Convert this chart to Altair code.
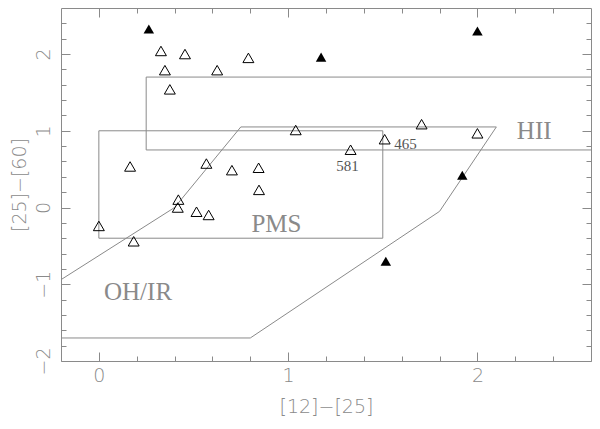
import altair as alt
import pandas as pd

# ---- data ----
open_x = [0.328, 0.455, 0.349, 0.375, 0.625, 0.79, 0.165, 0.42, 0.417, 0.516, 0.58,
          0.0, 0.184, 0.568, 0.703, 0.844, 0.846, 1.04, 1.33, 1.51, 1.705, 2.0]
open_y = [2.04, 2.0, 1.79, 1.54, 1.79, 1.95, 0.535, 0.103, 0.0, -0.055, -0.097,
          -0.24, -0.44, 0.573, 0.487, 0.518, 0.23, 1.01, 0.753, 0.89, 1.086, 0.967]
filled_x = [0.264, 1.174, 2.0, 1.92, 1.516]
filled_y = [2.326, 1.96, 2.30, 0.42, -0.70]

pms_x = [0.0, 1.5, 1.5, 0.0, 0.0]
pms_y = [1.0, 1.0, -0.4, -0.4, 1.0]
hii_x = [2.6, 0.25, 0.25, 2.6]
hii_y = [1.7, 1.7, 0.75, 0.75]
ohir_x = [-0.2, 0.4, 0.75, 2.1, 1.8, 0.8, -0.2]
ohir_y = [-0.94, 0.0, 1.05, 1.05, -0.05, -1.7, -1.7]

region_labels = ["PMS", "OH/IR", "HII"]
region_x = [0.938, 0.207, 2.30]
region_y = [-0.21, -1.107, 1.0]
id_labels = ["581", "465"]
id_x = [1.313, 1.62]
id_y = [0.541, 0.823]

x_major = [0, 1, 2]
x_minor = [0.2, 0.4, 0.6, 0.8, 1.2, 1.4, 1.6, 1.8, 2.2, 2.4]
y_major = [-2, -1, 0, 1, 2]
y_minor = [-1.8, -1.6, -1.4, -1.2, -0.8, -0.6, -0.4, -0.2, 0.2, 0.4, 0.6, 0.8,
           1.2, 1.4, 1.6, 1.8, 2.2, 2.4]

# ---- tables ----
lines = []
for name, xs_, ys_ in [("pms", pms_x, pms_y), ("hii", hii_x, hii_y), ("ohir", ohir_x, ohir_y)]:
    for i, (a, b) in enumerate(zip(xs_, ys_)):
        lines.append({"shape": name, "i": i, "x": a, "y": b})
lines_df = pd.DataFrame(lines)
open_df = pd.DataFrame({"x": open_x, "y": open_y})
filled_df = pd.DataFrame({"x": filled_x, "y": filled_y})
region_df = pd.DataFrame({"x": region_x, "y": region_y, "t": region_labels})
id_df = pd.DataFrame({"x": id_x, "y": id_y, "t": id_labels})

GRAY = "#8a8a8a"
AXFONT = "DejaVu Sans"
SERIF = "Liberation Serif"

xscale = alt.Scale(domain=[-0.2, 2.6], nice=False, zero=False)
yscale = alt.Scale(domain=[-2.0, 2.6], nice=False, zero=False)


def axis(orient, values, size, labels=False, title=None, **kw):
    args = dict(orient=orient, values=values, tickSize=size, offset=-size,
                domain=False, grid=False, labels=labels, tickColor=GRAY,
                tickWidth=1)
    if title is not None:
        args.update(title=title, titleFont=AXFONT, titleFontSize=19,
                    titleFontWeight=200, titleColor=GRAY)
    else:
        args.update(title=None)
    args.update(kw)
    return alt.Axis(**args)


ax_bottom = axis("bottom", x_major, 9, labels=True, title="[12]−[25]",
                 labelFont=AXFONT, labelFontSize=19, labelFontWeight=200,
                 labelColor=GRAY, labelPadding=5, titlePadding=12)
ax_left = axis("left", y_major, 9, labels=True, title="[25]−[60]",
               labelFont=AXFONT, labelFontSize=19, labelFontWeight=200,
               labelColor=GRAY, labelPadding=8, labelAngle=270,
               labelAlign="center", labelBaseline="bottom", titlePadding=5)

X = alt.X("x:Q", scale=xscale, axis=ax_bottom)
Y = alt.Y("y:Q", scale=yscale, axis=ax_left)

line_layer = alt.Chart(lines_df).mark_line(color=GRAY, strokeWidth=1).encode(
    x=X, y=Y, detail="shape:N", order="i:Q")
open_layer = alt.Chart(open_df).mark_point(
    shape="triangle-up", filled=False, color="black", size=120, strokeWidth=1,
    opacity=1).encode(x=X, y=Y)
filled_layer = alt.Chart(filled_df).mark_point(
    shape="triangle-up", filled=True, color="black", size=110, opacity=1).encode(x=X, y=Y)
region_layer = alt.Chart(region_df).mark_text(
    font=SERIF, fontSize=25, color=GRAY, baseline="middle", align="center").encode(
    x=X, y=Y, text="t:N")
id_layer = alt.Chart(id_df).mark_text(
    font=SERIF, fontSize=15, color="#555555", baseline="middle", align="center").encode(
    x=X, y=Y, text="t:N")

main = alt.layer(line_layer, open_layer, filled_layer, region_layer, id_layer)


def ghost(ax_x, ax_y):
    return alt.Chart(open_df).mark_point(opacity=0).encode(
        x=alt.X("x:Q", scale=xscale, axis=ax_x),
        y=alt.Y("y:Q", scale=yscale, axis=ax_y))


minor_bl = ghost(axis("bottom", x_minor, 5), axis("left", y_minor, 5))
major_tr = ghost(axis("top", x_major, 9), axis("right", y_major, 9))
minor_tr = ghost(axis("top", x_minor, 5), axis("right", y_minor, 5))

chart = alt.layer(main, minor_bl, major_tr, minor_tr).resolve_scale(
    x="independent", y="independent"
).properties(
    width=530, height=353,
    padding={"left": 53, "top": 0, "right": 1, "bottom": 57},
    autosize=alt.AutoSizeParams(type="none"),
).configure_view(stroke=GRAY, strokeWidth=1)

chart.save("out.html", embed_options={"renderer": "svg", "actions": False})
